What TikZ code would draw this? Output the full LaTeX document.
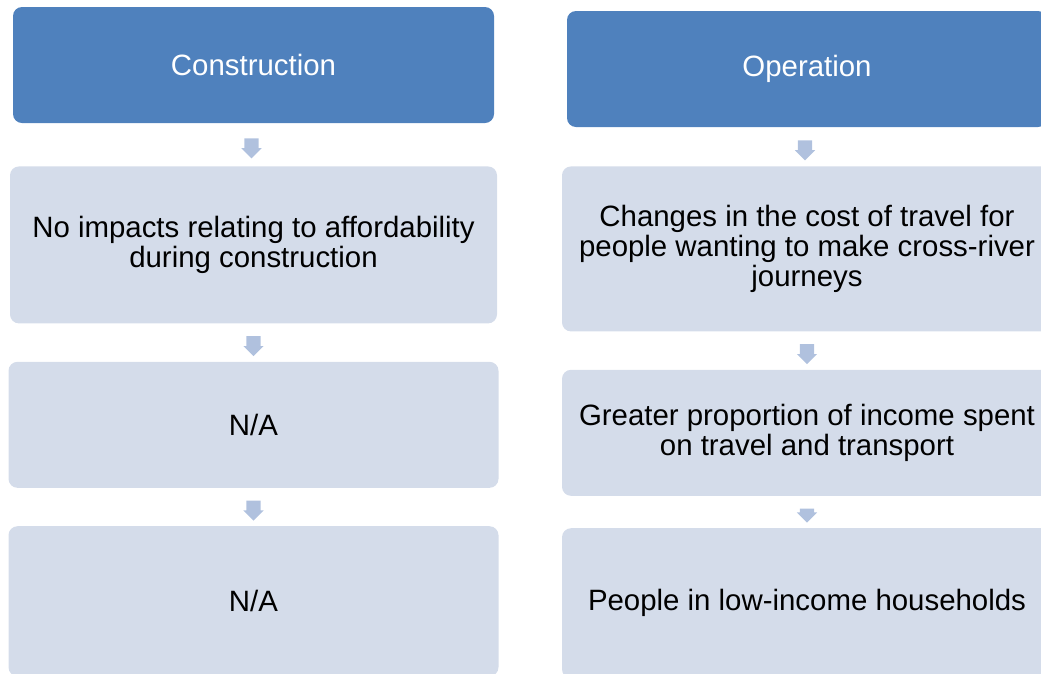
\documentclass[tikz,border=0pt]{standalone}
\usepackage{fontspec}
\setmainfont{Liberation Sans}
\usetikzlibrary{positioning,calc,shapes.arrows}
\definecolor{headblue}{HTML}{4F81BD}
\definecolor{boxgrey}{HTML}{D4DCEA}
\definecolor{arrowblue}{HTML}{B0C1DE}
\tikzset{
  stage/.style={fill=headblue, text=white, rounded corners=9pt, minimum height=116pt,
    inner sep=0pt, align=center, font=\fontsize{29.4}{30}\selectfont},
  effect/.style={fill=boxgrey, text=black, rounded corners=9pt,
    inner sep=0pt, align=center, font=\fontsize{29.4}{30}\selectfont},
  flowarrow/.style={single arrow, fill=arrowblue, draw=none, rotate=-90,
    inner xsep=0pt, inner ysep=7pt, minimum height=20pt, minimum width=0pt,
    single arrow head extend=3pt}
}

\begin{document}
\begin{tikzpicture}[x=1pt, y=1pt]
    \useasboundingbox (0,0) rectangle (1041,-673);
    \clip (0,0) rectangle (1041,-673);
    \node (constr) [stage, minimum width=481pt] at (253.5,-65) {Construction};
    \node (constrA) [effect, minimum width=487pt, minimum height=157pt, below=43pt of constr]
      {No impacts relating to affordability\\during construction};
    \node (constrB) [effect, minimum width=490pt, minimum height=126pt, below=38pt of constrA] {N/A};
    \node (constrC) [effect, minimum width=490pt, minimum height=150pt, below=38pt of constrB] {N/A};

    \node (oper) [stage, minimum width=480pt] at (807,-69) {Operation};
    \node (operA) [effect, minimum width=490pt, minimum height=165pt, below=39pt of oper]
      {Changes in the cost of travel for\\people wanting to make cross-river\\journeys};
    \node (operB) [effect, minimum width=490pt, minimum height=126pt, below=38pt of operA]
      {Greater proportion of income spent\\on travel and transport};
    \node (operC) [effect, minimum width=490pt, minimum height=150pt, below=32pt of operB]
      {People in low-income households};

    \node [flowarrow, yshift=-2pt] at ($(constr.south)!0.5!(constrA.north)$) {};
    \node [flowarrow] at ($(constrA.south)!0.5!(constrB.north)$) {};
    \node [flowarrow] at ($(constrB.south)!0.5!(constrC.north)$) {};
    \node [flowarrow, yshift=-2pt] at ($(oper.south)!0.5!(operA.north)$) {};
    \node [flowarrow] at ($(operA.south)!0.5!(operB.north)$) {};
    \node [flowarrow, minimum height=14pt] at ($(operB.south)!0.5!(operC.north)$) {};
\end{tikzpicture}
\end{document}
